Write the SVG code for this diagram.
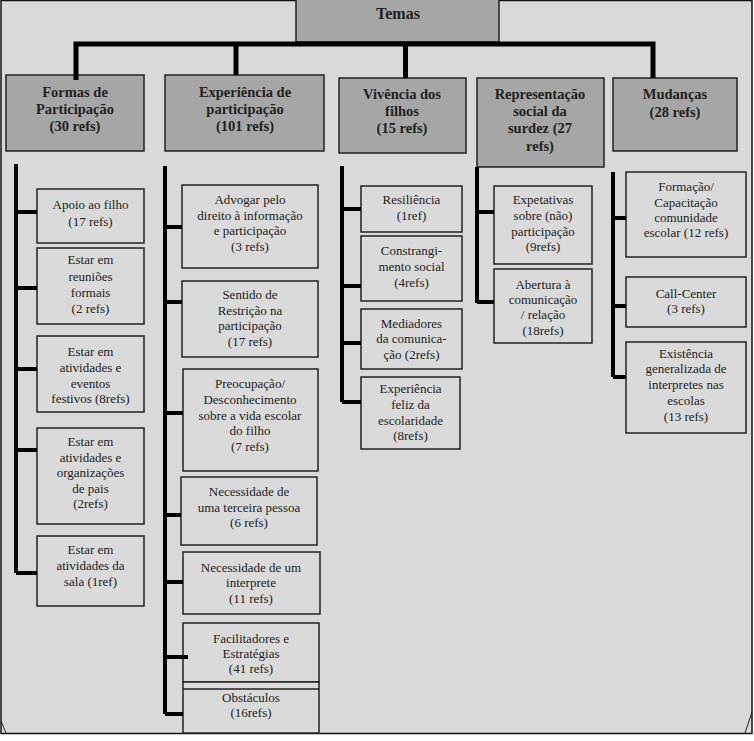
<svg xmlns="http://www.w3.org/2000/svg" width="754" height="741" viewBox="0 0 754 741">
<style>
.frame{fill:#d9d9d9;stroke:#111;stroke-width:1.5}
.p{fill:#a6a6a6;stroke:#222;stroke-width:1.5}
.c{fill:#dadada;stroke:#222;stroke-width:1.5}
.pt{font-family:"Liberation Serif","Times New Roman",serif;font-weight:bold;font-size:14.5px;fill:#222;text-anchor:middle}
.ct{font-family:"Liberation Serif","Times New Roman",serif;font-size:13px;fill:#222;text-anchor:middle}
.main{fill:none;stroke:#000;stroke-width:5}
.br{fill:none;stroke:#000;stroke-width:4}
</style>
<rect x="0" y="0" width="754" height="741" fill="#ffffff"/>
<rect class="frame" x="1" y="0.5" width="751" height="733"/>
<path d="M1,721 Q4,728 6,733" fill="none" stroke="#222" stroke-width="1"/>
<path d="M752,712 Q748,724 745,733" fill="none" stroke="#222" stroke-width="1"/>

<g id="temas">
<rect class="p" x="296" y="-2" width="203" height="44"/>
<text class="pt" x="398" y="19" style="font-size:16px">Temas</text>
</g>

<g id="formas">
<rect class="p" x="6" y="75" width="138" height="76"/>
<text class="pt" x="75" y="97">Formas de</text>
<text class="pt" x="75" y="114">Participação</text>
<text class="pt" x="75" y="131">(30 refs)</text>
</g>
<g id="experiencia">
<rect class="p" x="165" y="75" width="159" height="76"/>
<text class="pt" x="245" y="97">Experiência de</text>
<text class="pt" x="245" y="114">participação</text>
<text class="pt" x="245" y="131">(101 refs)</text>
</g>
<g id="vivencia">
<rect class="p" x="339" y="78" width="127" height="75"/>
<text class="pt" x="402" y="99">Vivência dos</text>
<text class="pt" x="402" y="116">filhos</text>
<text class="pt" x="402" y="133">(15 refs)</text>
</g>
<g id="representacao">
<rect class="p" x="477" y="78" width="127" height="89"/>
<text class="pt" x="540" y="99">Representação</text>
<text class="pt" x="540" y="116">social da</text>
<text class="pt" x="540" y="133">surdez (27</text>
<text class="pt" x="540" y="151">refs)</text>
</g>
<g id="mudancas">
<rect class="p" x="613" y="78" width="124" height="73"/>
<text class="pt" x="675" y="99">Mudanças</text>
<text class="pt" x="675" y="117">(28 refs)</text>
</g>

<g id="apoio">
<rect class="c" x="37" y="189" width="107" height="54"/>
<text class="ct" x="90.5" y="209">Apoio ao filho</text>
<text class="ct" x="90.5" y="226">(17 refs)</text>
</g>
<g id="reunioes">
<rect class="c" x="37" y="248" width="107" height="76"/>
<text class="ct" x="90.5" y="264">Estar em</text>
<text class="ct" x="90.5" y="281">reuniões</text>
<text class="ct" x="90.5" y="297">formais</text>
<text class="ct" x="90.5" y="313">(2 refs)</text>
</g>
<g id="festivos">
<rect class="c" x="37" y="336" width="107" height="76"/>
<text class="ct" x="90.5" y="356">Estar em</text>
<text class="ct" x="90.5" y="372">atividades e</text>
<text class="ct" x="90.5" y="388">eventos</text>
<text class="ct" x="90.5" y="403">festivos (8refs)</text>
</g>
<g id="organizacoes">
<rect class="c" x="37" y="428" width="107" height="96"/>
<text class="ct" x="90.5" y="446">Estar em</text>
<text class="ct" x="90.5" y="462">atividades e</text>
<text class="ct" x="90.5" y="477">organizações</text>
<text class="ct" x="90.5" y="493">de pais</text>
<text class="ct" x="90.5" y="508">(2refs)</text>
</g>
<g id="sala">
<rect class="c" x="37" y="536" width="107" height="70"/>
<text class="ct" x="90.5" y="554">Estar em</text>
<text class="ct" x="90.5" y="570">atividades da</text>
<text class="ct" x="90.5" y="586">sala (1ref)</text>
</g>

<g id="advogar">
<rect class="c" x="182" y="185" width="136" height="83"/>
<text class="ct" x="250" y="204">Advogar pelo</text>
<text class="ct" x="250" y="220">direito à informação</text>
<text class="ct" x="250" y="235">e participação</text>
<text class="ct" x="250" y="251">(3 refs)</text>
</g>
<g id="sentido">
<rect class="c" x="182" y="281" width="136" height="76"/>
<text class="ct" x="250" y="299">Sentido de</text>
<text class="ct" x="250" y="315">Restrição na</text>
<text class="ct" x="250" y="330">participação</text>
<text class="ct" x="250" y="346">(17 refs)</text>
</g>
<g id="preocupacao">
<rect class="c" x="183" y="369" width="135" height="102"/>
<text class="ct" x="250" y="388">Preocupação/</text>
<text class="ct" x="250" y="404">Desconhecimento</text>
<text class="ct" x="250" y="420">sobre a vida escolar</text>
<text class="ct" x="250" y="435">do filho</text>
<text class="ct" x="250" y="451">(7 refs)</text>
</g>
<g id="terceira">
<rect class="c" x="181" y="477" width="136" height="68"/>
<text class="ct" x="249" y="496">Necessidade de</text>
<text class="ct" x="249" y="512">uma terceira pessoa</text>
<text class="ct" x="249" y="527">(6 refs)</text>
</g>
<g id="interprete">
<rect class="c" x="183" y="552" width="137" height="62"/>
<text class="ct" x="251" y="572">Necessidade de um</text>
<text class="ct" x="251" y="587">interprete</text>
<text class="ct" x="251" y="603">(11 refs)</text>
</g>
<g id="facilitadores">
<rect class="c" x="183" y="623" width="136" height="59"/>
<text class="ct" x="251" y="643">Facilitadores e</text>
<text class="ct" x="251" y="658">Estratégias</text>
<text class="ct" x="251" y="673">(41 refs)</text>
</g>
<g id="obstaculos">
<rect class="c" x="183" y="682" width="136" height="51"/>
<line x1="183" y1="689" x2="319" y2="689" stroke="#222" stroke-width="1.5"/>
<text class="ct" x="251" y="702">Obstáculos</text>
<text class="ct" x="251" y="717">(16refs)</text>
</g>

<g id="resiliencia">
<rect class="c" x="361" y="186" width="101" height="46"/>
<text class="ct" x="411.5" y="204">Resiliência</text>
<text class="ct" x="411.5" y="220">(1ref)</text>
</g>
<g id="constrangimento">
<rect class="c" x="361" y="236" width="101" height="65"/>
<text class="ct" x="411.5" y="255">Constrangi-</text>
<text class="ct" x="411.5" y="271">mento social</text>
<text class="ct" x="411.5" y="287">(4refs)</text>
</g>
<g id="mediadores">
<rect class="c" x="361" y="309" width="101" height="60"/>
<text class="ct" x="411.5" y="328">Mediadores</text>
<text class="ct" x="411.5" y="343">da comunica-</text>
<text class="ct" x="411.5" y="359">ção (2refs)</text>
</g>
<g id="feliz">
<rect class="c" x="361" y="377" width="99" height="72"/>
<text class="ct" x="410.5" y="393">Experiência</text>
<text class="ct" x="410.5" y="409">feliz da</text>
<text class="ct" x="410.5" y="425">escolaridade</text>
<text class="ct" x="410.5" y="440">(8refs)</text>
</g>

<g id="expetativas">
<rect class="c" x="494" y="186" width="98" height="78"/>
<text class="ct" x="543" y="204">Expetativas</text>
<text class="ct" x="543" y="220">sobre (não)</text>
<text class="ct" x="543" y="236">participação</text>
<text class="ct" x="543" y="251">(9refs)</text>
</g>
<g id="abertura">
<rect class="c" x="494" y="269" width="98" height="74"/>
<text class="ct" x="543" y="289">Abertura à</text>
<text class="ct" x="543" y="304">comunicação</text>
<text class="ct" x="543" y="319">/ relação</text>
<text class="ct" x="543" y="335">(18refs)</text>
</g>

<g id="formacao">
<rect class="c" x="626" y="172" width="120" height="85"/>
<text class="ct" x="686" y="191">Formação/</text>
<text class="ct" x="686" y="207">Capacitação</text>
<text class="ct" x="686" y="222">comunidade</text>
<text class="ct" x="686" y="237">escolar (12 refs)</text>
</g>
<g id="callcenter">
<rect class="c" x="626" y="277" width="120" height="50"/>
<text class="ct" x="686" y="298">Call-Center</text>
<text class="ct" x="686" y="313">(3 refs)</text>
</g>
<g id="existencia">
<rect class="c" x="626" y="342" width="120" height="91"/>
<text class="ct" x="686" y="358">Existência</text>
<text class="ct" x="686" y="373">generalizada de</text>
<text class="ct" x="686" y="389">interpretes nas</text>
<text class="ct" x="686" y="405">escolas</text>
<text class="ct" x="686" y="421">(13 refs)</text>
</g>

<g id="connectors">
<path class="main" d="M76,80 V44 H653 V78"/>
<path class="main" d="M236,44 V75"/>
<path class="main" d="M405.5,44 V78"/>
<path class="br" d="M16,164 V573 M16,212 H37 M16,288 H37 M16,369 H37 M16,450 H37 M16,573 H37"/>
<path class="br" d="M165,166 V714 M165,227 H182 M165,302 H182 M165,413 H183 M165,515 H181 M165,582 H183 M167,657 H188 M165,714 H183"/>
<path class="br" d="M342,166 V402 M342,209 H361 M342,286 H361 M342,343 H361 M342,402 H361"/>
<path class="br" d="M477,167 V303 M477,212 H494 M477,302 H494"/>
<path class="br" d="M613,172 V377 M613,218 H626 M613,306 H626 M613,377 H626"/>
</g>
</svg>
